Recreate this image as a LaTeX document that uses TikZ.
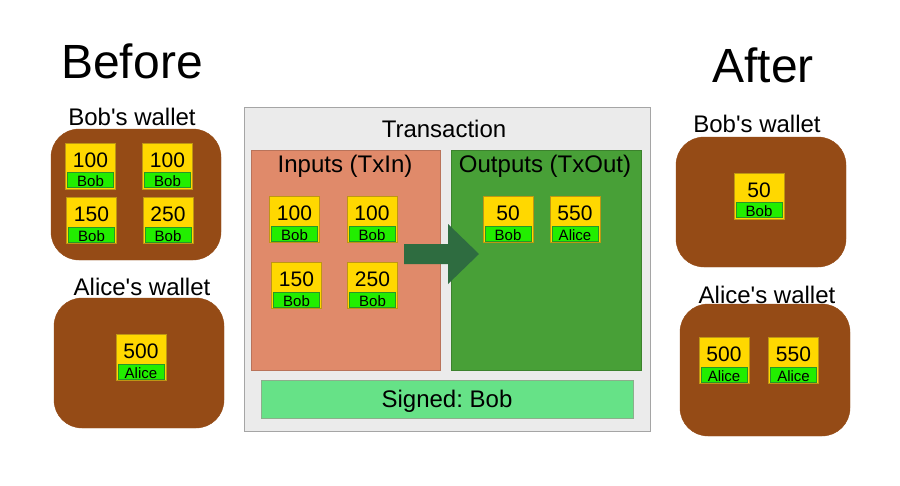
\documentclass[tikz,border=0pt]{standalone}
\usepackage{fontspec}
\setmainfont{Liberation Sans}
\usetikzlibrary{calc}
\frenchspacing
\definecolor{brownw}{RGB}{149,75,22}
\definecolor{coinfill}{RGB}{255,216,0}
\definecolor{coinedge}{RGB}{190,150,20}
\definecolor{bandfill}{RGB}{34,238,0}
\definecolor{bandedge}{RGB}{40,150,40}
\definecolor{txfill}{RGB}{235,235,235}
\definecolor{txedge}{RGB}{165,165,165}
\definecolor{infill}{RGB}{224,138,106}
\definecolor{inedge}{RGB}{185,115,90}
\definecolor{outfill}{RGB}{72,160,55}
\definecolor{outedge}{RGB}{60,130,45}
\definecolor{sigfill}{RGB}{102,226,135}
\definecolor{sigedge}{RGB}{140,175,140}
\definecolor{arrowc}{RGB}{46,108,64}
\tikzset{
  wallet/.style={fill=brownw, draw=brownw, rounded corners=28pt},
  coinbox/.style={draw=coinedge, fill=coinfill, line width=0.8pt, minimum width=50pt, minimum height=46pt, inner sep=0pt},
  band/.style={draw=bandedge, fill=bandfill, line width=0.8pt, minimum width=46pt, minimum height=15pt, inner sep=0pt},
  numtxt/.style={inner sep=0pt, font=\fontsize{21}{24}\selectfont},
  owntxt/.style={inner sep=0pt, font=\fontsize{15}{17}\selectfont},
  title/.style={inner sep=0pt, font=\fontsize{48}{56}\selectfont},
  label/.style={inner sep=0pt, font=\fontsize{24}{28}\selectfont},
}
\newcommand\coin[5]{%
  \node[coinbox] (#1) at (#2,#3) {};
  \node[band] (#1-band) at (#2,#3+14) {};
  \node[numtxt, anchor=base] (#1-num) at (#2,#3+1) {#4};
  \node[owntxt, anchor=base] (#1-own) at (#2,#3+20.5) {#5};
}
\newcommand\sq{\textquotesingle}
\begin{document}
\begin{tikzpicture}[x=1pt,y=-1pt]
\useasboundingbox (0,0) rectangle (900,485);
\fill[white] (0,0) rectangle (900,485);
% titles
\node[title, anchor=base] (before) at (132,78) {Before};
\node[title, anchor=base] (after) at (763,82) {After};
% left wallets
\node[label, anchor=base] (lbobl) at (132,125) {Bob\sq s wallet};
\draw[wallet] (51,129) rectangle (221,260);
\coin{lb1}{90.5}{166}{100}{Bob}
\coin{lb2}{167.5}{166}{100}{Bob}
\coin{lb3}{91.5}{220.5}{150}{Bob}
\coin{lb4}{168}{220.5}{250}{Bob}
\node[label, anchor=base] (lalicel) at (142,295) {Alice\sq s wallet};
\draw[wallet] (54,298) rectangle (224,428);
\coin{la1}{141}{357.5}{500}{Alice}
% transaction
\draw[fill=txfill, draw=txedge, line width=0.8pt] (244,107) rectangle (650,431);
\node[label, anchor=base] (txl) at (444,137) {Transaction};
\draw[fill=infill, draw=inedge, line width=0.8pt] (251,150) rectangle (440,370);
\node[label, anchor=base] (inl) at (345,172) {Inputs (TxIn)};
\draw[fill=outfill, draw=outedge, line width=0.8pt] (451,150) rectangle (641,370);
\node[label, anchor=base] (outl) at (545,172) {Outputs (TxOut)};
\coin{i1}{294.5}{219.5}{100}{Bob}
\coin{i2}{372}{219.5}{100}{Bob}
\coin{i3}{296.5}{285.5}{150}{Bob}
\coin{i4}{372.5}{285.5}{250}{Bob}
\coin{o1}{508}{219.5}{50}{Bob}
\coin{o2}{575}{219.5}{550}{Alice}
\fill[arrowc] (404,244) -- (448,244) -- (448,224) -- (479,254) -- (448,284) -- (448,264) -- (404,264) -- cycle;
\node[draw=sigedge, fill=sigfill, line width=0.8pt, minimum width=372pt, minimum height=38pt, inner sep=0pt] (signed) at (447,399) {};
\node[label, anchor=base] (sigl) at (447,407) {Signed: Bob};
% right wallets
\node[label, anchor=base] (rbobl) at (757,132) {Bob\sq s wallet};
\draw[wallet] (676,137) rectangle (846,267);
\coin{rb1}{759}{196}{50}{Bob}
\node[label, anchor=base] (ralicel) at (767,303) {Alice\sq s wallet};
\draw[wallet] (680,304) rectangle (850,436);
\coin{ra1}{724}{360.5}{500}{Alice}
\coin{ra2}{793.5}{360.5}{550}{Alice}
\end{tikzpicture}
\end{document}
